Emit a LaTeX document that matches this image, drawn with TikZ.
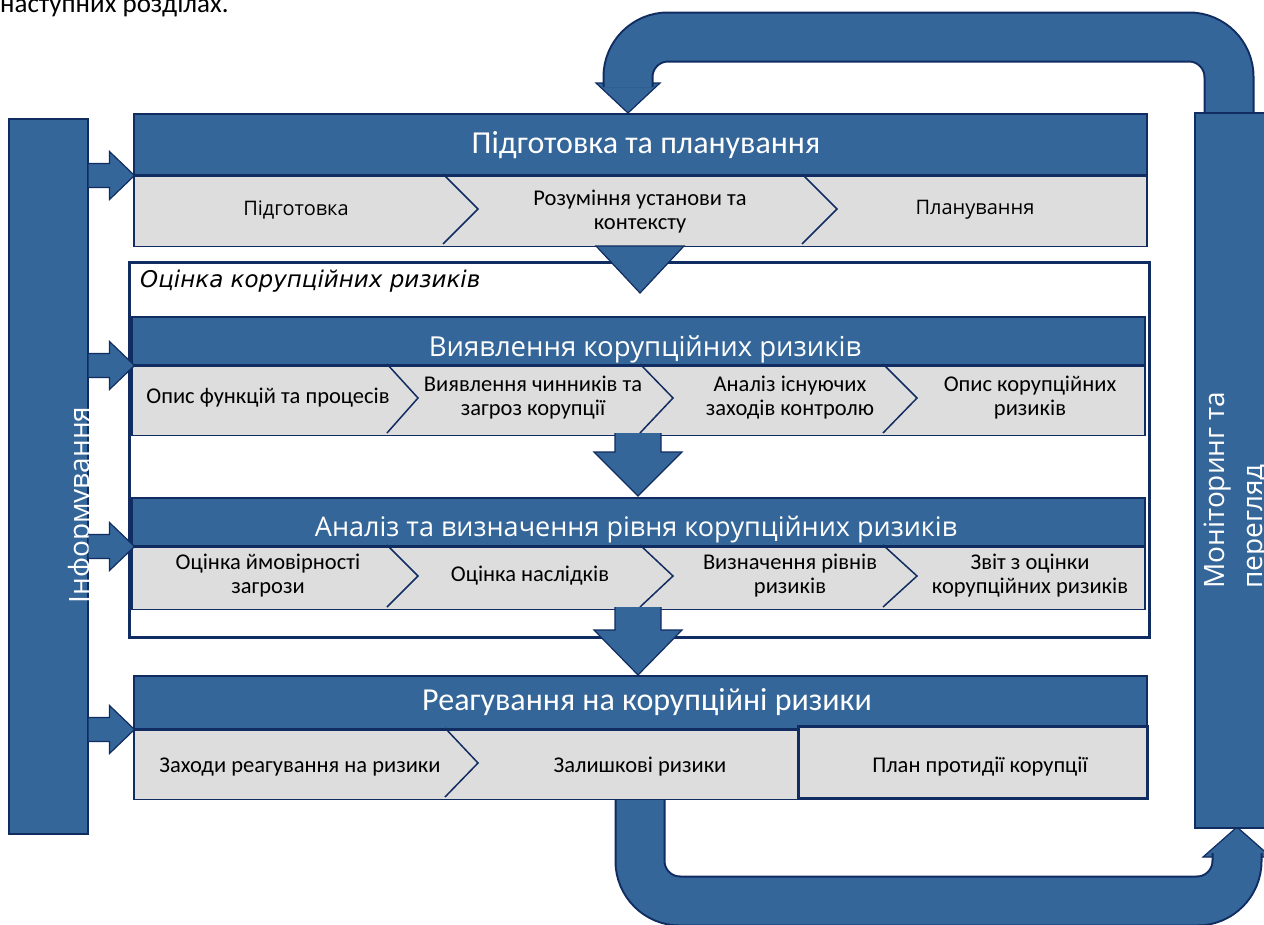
\documentclass[tikz,border=0pt]{standalone}
\usepackage{fontspec}
\setmainfont{Carlito}
\newfontfamily\opensans{Open Sans}
\newfontfamily\dejavu{DejaVu Sans}
\usetikzlibrary{positioning}
\usetikzlibrary{calc}
\definecolor{boxblue}{RGB}{52,102,153}
\definecolor{edgenavy}{RGB}{16,44,96}
\definecolor{stepgray}{RGB}{221,221,221}

\begin{document}
\begin{tikzpicture}[x=1pt,y=-1pt,
  bar/.style={draw=edgenavy,line width=1.5pt,fill=boxblue,anchor=north west,inner sep=0pt},
  bartext/.style={rotate=90,text=white,font=\opensans\fontsize{28}{38}\selectfont,inner sep=0pt},
  header/.style={draw=edgenavy,line width=1.5pt,fill=boxblue,anchor=north west,minimum width=1013pt,inner sep=0pt},
  headtext/.style={anchor=base,text=white,inner sep=0pt},
  steprow/.style={draw=edgenavy,line width=1.5pt,fill=stepgray,anchor=north west,minimum width=1013pt,inner sep=0pt},
  steptext/.style={align=center,font=\fontsize{22.5}{24}\selectfont,inner sep=0pt},
  chevron/.style={draw=edgenavy,line width=1.5pt},
  blockarrow/.style={fill=boxblue,draw=edgenavy,line width=1.2pt,line join=miter},
  loopband/.style={draw=edgenavy,line width=2pt,double=boxblue,double distance=47pt,rounded corners=40pt}
]
\useasboundingbox (0,0) rectangle (1264,924);

\node[anchor=base west,inner sep=0pt,font=\fontsize{27}{30}\selectfont] (introText) at (0,12) {наступних розділах.};

\draw[blockarrow] (596,83) -- (660,83) -- (628,113) -- cycle;
\draw[loopband] (1229,112) -- (1229,37) -- (628,37) -- (628,87);
\draw[blockarrow] (1203,857) -- (1271,857) -- (1237,827) -- cycle;
\draw[loopband] (640,797) -- (640,901) -- (1237,901) -- (1237,853);

\node[bar,minimum width=79pt,minimum height=715pt] (infoBar) at (8,118) {};
\node[bartext,anchor=base] (infoText) at (89,505) {Інформування};
\node[bar,minimum width=82pt,minimum height=715pt] (monitorBar) at (1194,112) {};
\node[bartext,anchor=west,align=left] (monitorText) at (1237,589) {Моніторинг та\\перегляд};

\node[header,minimum height=61pt] (prep) at (133,113) {};
\node[headtext,font=\fontsize{32}{36}\selectfont] (prepTitle) at (646,153) {Підготовка та планування};
\node[steprow,minimum height=70pt] (prepRow) at (prep.south west) {};
\draw[chevron] (443,174) -- (478,209) -- (443,244);
\draw[chevron] (802,174) -- (837,209) -- (802,244);
\node[steptext,font=\opensans\fontsize{20}{24}\selectfont] (prepA) at (296,210) {Підготовка};
\node[steptext] (prepB) at (640,212) {Розуміння установи та\\контексту};
\node[steptext,font=\opensans\fontsize{20}{24}\selectfont] (prepC) at (975,210) {Планування};

\node[draw=edgenavy,line width=3pt,fill=white,anchor=north west,minimum width=1020pt,minimum height=375pt,inner sep=0pt] (riskFrame) at (128,261) {};
\node[anchor=west,inner sep=0pt,font=\dejavu\itshape\fontsize{23}{27}\selectfont] (riskLabel) at (140,281) {Оцінка корупційних ризиків};

\node[header,minimum height=48pt] (ident) at (131,316) {};
\node[headtext,font=\opensans\fontsize{27.5}{31}\selectfont] (identTitle) at (645,356) {Виявлення корупційних ризиків};
\node[steprow,minimum height=69pt] (identRow) at (ident.south west) {};
\draw[chevron] (387,364) -- (418,398) -- (387,433);
\draw[chevron] (640,364) -- (673,398) -- (640,433);
\draw[chevron] (883,364) -- (917,398) -- (883,433);
\node[steptext] (identA) at (268,398) {Опис функцій та процесів};
\node[steptext] (identB) at (533,398) {Виявлення чинників та\\загроз корупції};
\node[steptext] (identC) at (790,398) {Аналіз існуючих\\заходів контролю};
\node[steptext] (identD) at (1030,398) {Опис корупційних\\ризиків};

\node[header,minimum height=48pt] (anal) at (131,497) {};
\node[headtext,font=\opensans\fontsize{27}{31}\selectfont] (analTitle) at (636,536) {Аналіз та визначення рівня корупційних ризиків};
\node[steprow,minimum height=62pt] (analRow) at (anal.south west) {};
\draw[chevron] (387,545) -- (418,576) -- (387,607);
\draw[chevron] (640,545) -- (673,576) -- (640,607);
\draw[chevron] (883,545) -- (917,576) -- (883,607);
\node[steptext] (analA) at (268,576) {Оцінка ймовірності\\загрози};
\node[steptext] (analB) at (530,576) {Оцінка наслідків};
\node[steptext] (analC) at (790,576) {Визначення рівнів\\ризиків};
\node[steptext] (analD) at (1030,576) {Звіт з оцінки\\корупційних ризиків};

\node[header,minimum height=53pt] (resp) at (133,675) {};
\node[headtext,font=\fontsize{32}{36}\selectfont] (respTitle) at (647,710) {Реагування на корупційні ризики};
\node[steprow,minimum height=69pt] (respRow) at (resp.south west) {};
\draw[chevron] (445,728) -- (478,763) -- (445,797);
\node[draw=edgenavy,line width=2.5pt,fill=stepgray,anchor=north west,minimum width=349pt,minimum height=72pt,inner sep=0pt] (planBox) at (797,725) {};
\node[steptext] (respA) at (300,767) {Заходи реагування на ризики};
\node[steptext] (respB) at (640,767) {Залишкові ризики};
\node[steptext] (respC) at (980,767) {План протидії корупції};

\draw[blockarrow] (596,246) -- (684,246) -- (640,293) -- cycle;
\draw[blockarrow] (615,433) -- (615,452) -- (594,452) -- (638,496) -- (682,452) -- (661,452) -- (661,433);
\draw[blockarrow] (615,607) -- (615,630) -- (594,630) -- (638,675) -- (682,630) -- (661,630) -- (661,607);

\draw[blockarrow] (infoBar.east |- prep.south) ++(0,-12) -- ++(21,0) -- ++(0,-12) -- ++(25,24) -- ++(-25,24) -- ++(0,-12) -- ++(-21,0);
\draw[blockarrow] (infoBar.east |- ident.south) ++(0,-12) -- ++(21,0) -- ++(0,-12) -- ++(25,24) -- ++(-25,24) -- ++(0,-12) -- ++(-21,0);
\draw[blockarrow] (infoBar.east |- anal.south) ++(0,-12) -- ++(21,0) -- ++(0,-12) -- ++(25,24) -- ++(-25,24) -- ++(0,-12) -- ++(-21,0);
\draw[blockarrow] (infoBar.east |- resp.south) ++(0,-12) -- ++(21,0) -- ++(0,-12) -- ++(25,24) -- ++(-25,24) -- ++(0,-12) -- ++(-21,0);
\end{tikzpicture}
\end{document}
